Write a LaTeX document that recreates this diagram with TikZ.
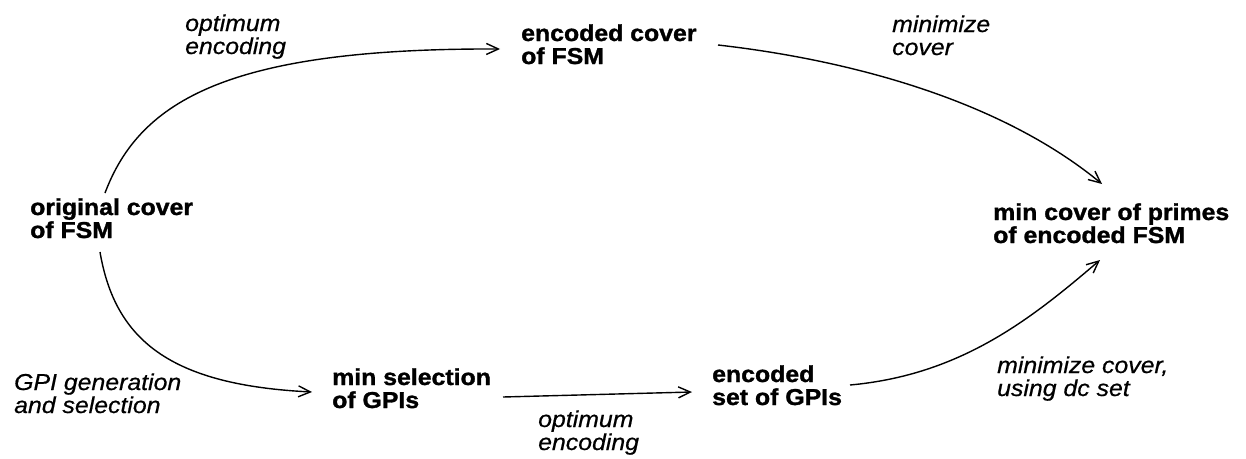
\documentclass[tikz,border=0pt]{standalone}
\usepackage{fontspec}
\setmainfont{Liberation Sans}[FakeStretch=1.08,BoldFeatures={FakeBold=1.3},ItalicFeatures={FakeBold=0.6}]
\usetikzlibrary{arrows.meta,calc}
\newcommand\mylines[2]{\vtop{\baselineskip=23pt\lineskiplimit=-20pt\hbox{#1}\hbox{#2}}}
\begin{document}
\begin{tikzpicture}[x=1pt,y=-1pt,
  stepbox/.style={anchor=base west,inner sep=0pt,font=\bfseries\fontsize{23}{23}\selectfont},
  lbl/.style={anchor=base west,inner sep=0pt,font=\itshape\fontsize{23}{23}\selectfont},
  conn/.style={line width=1.4pt,-{Straight Barb[length=12pt,width=11pt]}}]
\useasboundingbox (0,0) rectangle (1246,458);
\node[stepbox] (A) at (30,215) {\mylines{original cover}{of FSM}};
\node[stepbox] (B) at (521,41) {\mylines{encoded cover}{of FSM}};
\node[stepbox] (C) at (993,220) {\mylines{min cover of primes}{of encoded FSM}};
\node[stepbox] (D) at (332,385) {\mylines{min selection}{of GPIs}};
\node[stepbox] (E) at (712,382) {\mylines{encoded}{set of GPIs}};
\node[lbl] (L1) at (185,31) {\mylines{optimum}{encoding}};
\node[lbl] (L2) at (892,32) {\mylines{minimize}{cover}};
\node[lbl] (L3) at (14,390) {\mylines{GPI generation}{and selection}};
\node[lbl] (L4) at (538,427) {\mylines{optimum}{encoding}};
\node[lbl] (L5) at (997,373) {\mylines{minimize cover,}{using dc set}};
\draw[conn] ([shift={(75,-22)}]A.base west) .. controls (140,100) and (230,48) .. ([shift={(-21,8)}]B.base west);
\draw[conn] ([shift={(197,4)}]B.base west) .. controls (850,60) and (1000,100) .. ([shift={(109,-36)}]C.base west);
\draw[conn] ([shift={(70,37)}]A.base west) .. controls (115,340) and (170,385) .. ([shift={(-20,7)}]D.base west);
\draw[conn] ([shift={(171,12)}]D.base west) -- ([shift={(-20,10)}]E.base west);
\draw[conn] ([shift={(138,3)}]E.base west) .. controls (960,375) and (1030,320) .. ([shift={(107,40)}]C.base west);
\end{tikzpicture}
\end{document}
